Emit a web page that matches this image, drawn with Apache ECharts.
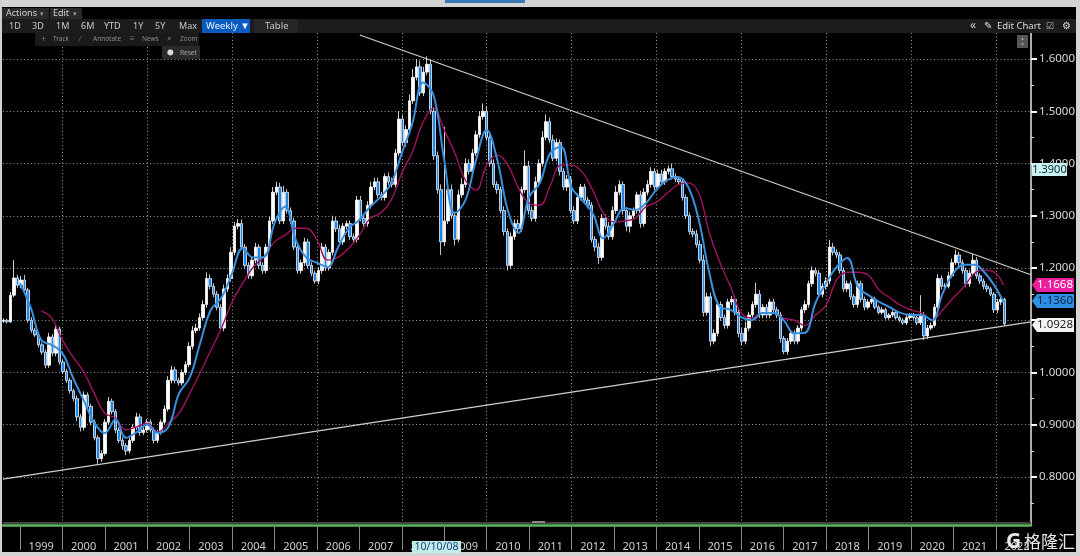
<!DOCTYPE html>
<html><head><meta charset="utf-8">
<style>html,body{margin:0;padding:0;background:#000}#c{width:1080px;height:556px}</style>
<script src="https://cdn.jsdelivr.net/npm/echarts@6/dist/echarts.min.js"></script>
</head><body><div id="c"></div>
<script>
const firstPeriod = 1998.61, periodStep = 0.0825;
const closes = [
1.100,1.097,1.148,1.181,1.167,1.177,1.158,1.100,1.081,1.072,1.053,1.039,
1.014,1.068,1.037,1.083,1.020,1.002,.985,.965,.950,.915,.895,.957,
.935,.905,.875,.835,.845,.905,.945,.925,.890,.870,.860,.850,
.870,.895,.915,.885,.890,.905,.890,.870,.885,.905,.930,.985,
1.005,.985,.980,1.000,1.015,1.050,1.080,1.085,1.105,1.130,1.180,1.165,
1.150,1.125,1.085,1.160,1.180,1.230,1.280,1.285,1.240,1.205,1.185,1.215,
1.240,1.205,1.195,1.240,1.290,1.345,1.355,1.290,1.345,1.310,1.290,1.240,
1.195,1.210,1.250,1.205,1.190,1.175,1.195,1.240,1.200,1.230,1.290,1.275,
1.250,1.280,1.285,1.260,1.255,1.330,1.295,1.285,1.320,1.355,1.365,1.340,
1.335,1.375,1.365,1.360,1.420,1.485,1.440,1.465,1.520,1.565,1.585,1.535,
1.575,1.590,1.500,1.415,1.350,1.250,1.290,1.350,1.300,1.255,1.340,1.360,
1.400,1.385,1.420,1.455,1.490,1.500,1.450,1.400,1.360,1.350,1.310,1.270,
1.205,1.260,1.285,1.275,1.350,1.395,1.310,1.295,1.365,1.400,1.450,1.480,
1.445,1.410,1.440,1.385,1.355,1.370,1.310,1.290,1.335,1.355,1.330,1.320,
1.255,1.240,1.220,1.295,1.280,1.260,1.310,1.345,1.360,1.310,1.280,1.300,
1.310,1.340,1.285,1.345,1.360,1.385,1.355,1.380,1.365,1.385,1.390,1.375,
1.370,1.365,1.335,1.300,1.270,1.265,1.245,1.215,1.115,1.145,1.060,1.075,
1.130,1.105,1.090,1.135,1.140,1.115,1.075,1.060,1.085,1.110,1.130,1.150,
1.110,1.125,1.110,1.135,1.120,1.110,1.065,1.040,1.060,1.075,1.060,1.085,
1.120,1.130,1.170,1.195,1.190,1.150,1.165,1.175,1.240,1.230,1.225,1.195,
1.160,1.170,1.145,1.130,1.170,1.140,1.125,1.135,1.140,1.125,1.115,1.120,
1.105,1.110,1.115,1.105,1.100,1.095,1.105,1.110,1.105,1.095,1.110,1.070,
1.085,1.090,1.125,1.180,1.165,1.165,1.185,1.210,1.225,1.210,1.195,1.170,
1.190,1.215,1.185,1.175,1.165,1.160,1.150,1.120,1.135,1.140,1.093];
// wick lengths above / below the body, in thousandths
const upperWicks = [
4,3,6,34,6,8,10,4,6,4,5,4, 5,8,6,8,5,5,5,5,4,6,6,7, 5,5,5,5,6,6,8,5,5,5,6,5, 6,6,8,6,5,6,5,5,5,5,7,8,
8,6,5,6,6,8,9,8,8,8,12,8, 6,6,6,8,8,10,8,9,8,6,6,8, 8,6,6,6,8,10,10,8,12,6,6,6, 6,6,8,6,6,5,6,8,6,6,10,8,
8,6,6,6,6,8,8,6,8,10,8,8, 6,6,8,8,8,15,8,8,12,16,15,12, 10,15,8,8,8,10,180,20,10,8,10,12,
10,8,8,8,10,15,10,8,8,6,6,8, 6,8,8,8,6,30,10,8,10,8,12,14, 8,10,8,6,6,8,6,8,8,6,6,6,
6,6,8,8,8,8,8,12,8,6,6,8, 6,6,8,8,8,8,6,8,8,6,6,10, 6,6,6,6,6,6,8,8,10,8,8,8,
8,6,6,6,6,6,6,10,12,6,6,22, 8,6,6,6,6,6,6,5,6,6,6,6, 6,8,6,8,6,6,6,8,14,8,6,6,
6,6,6,5,6,6,5,5,5,5,4,5, 4,4,4,4,4,4,6,4,4,6,38,6, 6,6,6,8,6,6,8,8,10,6,6,6, 6,12,6,5,5,5,4,4,6,6,3];
const lowerWicks = [
3,3,2,4,5,6,8,5,5,4,5,5, 6,5,6,6,5,5,5,5,5,8,8,6, 5,6,5,10,6,4,5,5,6,5,8,8, 5,5,5,6,5,5,5,6,5,4,4,5,
6,6,5,5,5,5,6,5,5,5,6,6, 6,6,5,6,6,6,6,6,6,6,6,6, 6,6,6,5,6,6,6,6,6,6,6,6, 6,6,6,6,6,5,6,6,6,5,6,6,
6,6,6,6,6,6,6,6,6,6,6,6, 6,6,6,6,6,6,6,8,6,6,6,6, 6,6,6,8,8,25,8,6,6,12,6,6,
6,6,6,6,6,6,6,6,6,8,6,8, 10,6,6,8,6,6,8,6,6,6,6,6, 6,6,6,8,6,8,6,6,6,6,6,6,
6,8,12,6,6,6,6,6,6,8,10,12, 6,6,8,6,6,6,6,6,6,6,6,6, 6,6,6,6,6,6,6,6,8,6,10,6,
6,6,6,6,6,6,8,8,6,6,6,6, 6,6,6,6,6,6,8,5,6,6,6,6, 6,6,6,6,6,6,6,6,6,6,6,6,
6,6,6,6,6,6,6,4,4,4,4,4, 4,4,4,4,4,4,4,4,4,4,4,8, 6,4,4,6,6,4,4,4,4,6,6,6, 6,6,6,6,6,6,4,6,6,6,3];

// moving averages, read every quarter from 1999.0; the last value sits at the last candle
const firstMaYear = 1999.0, maStep = 0.25, lastMaYear = 2022.18;
const blueAverage = [
1.171,1.125,1.062,1.053,1.037,.990,.947,.904,.884,.910,.875,.886,.900,.884,.896,.960,.990,1.057,1.120,1.143,
1.190,1.238,1.220,1.221,1.286,1.317,1.254,1.220,1.210,1.202,1.240,1.276,1.292,1.317,1.336,1.362,1.420,1.477,1.555,1.530,
1.407,1.305,1.330,1.407,1.464,1.407,1.310,1.267,1.336,1.362,1.420,1.432,1.355,1.330,1.305,1.257,1.286,1.315,1.311,1.324,
1.350,1.368,1.374,1.355,1.292,1.190,1.125,1.120,1.106,1.100,1.114,1.114,1.100,1.075,1.076,1.133,1.171,1.202,1.219,1.164,
1.148,1.135,1.125,1.114,1.110,1.110,1.100,1.152,1.190,1.206,1.206,1.190,1.162,1.135];
const crimsonStart = 1999.5;
const crimsonAverage = [
1.118,1.104,1.062,1.030,1.001,.960,.922,.913,.890,.896,.903,.886,.903,.922,.960,1.000,1.043,1.085,1.135,1.171,
1.202,1.221,1.250,1.263,1.276,1.276,1.254,1.215,1.221,1.238,1.263,1.295,1.305,1.330,1.382,1.422,1.479,1.506,1.464,1.420,
1.368,1.349,1.397,1.416,1.397,1.353,1.324,1.320,1.358,1.397,1.397,1.384,1.349,1.305,1.288,1.290,1.295,1.317,1.326,1.343,
1.359,1.363,1.343,1.267,1.210,1.164,1.114,1.104,1.114,1.114,1.104,1.100,1.090,1.110,1.129,1.177,1.192,1.192,1.186,1.158,
1.143,1.129,1.120,1.114,1.100,1.120,1.143,1.164,1.190,1.196,1.190,1.167];

const upperTrendYears = [2007.01, 2022.83], upperTrendValues = [1.646, 1.187];
const lowerTrendYears = [1998.6, 2022.83], lowerTrendValues = [0.796, 1.097];

const yearLabels = ['1999','2000','2001','2002','2003','2004','2005','2006','2007','2008','2009','2010','2011','2012','2013','2014','2015','2016','2017','2018','2019','2020','2021','2022'];
const priceTicks = [0.8,0.9,1.0,1.1,1.2,1.3,1.4,1.5,1.6];
const priceLabels = [0.8,0.9,1.0,1.2,1.3,1.4,1.5,1.6];
const minorPriceTicks = [0.75,0.85,0.95,1.05,1.15,1.25,1.35,1.45,1.55,1.65];

const years = yearLabels.map(Number);
const evenYears = years.filter(y => y % 2 === 0);
const candles = closes.map((c, i) => {
  const o = i ? closes[i-1] : 1.098;
  return [firstPeriod + i*periodStep, o, c,
    Math.min(o,c) - (lowerWicks[i]||4)/1000, Math.max(o,c) + (upperWicks[i]||4)/1000];
});
const blueData = blueAverage.map((v,i)=>[i === blueAverage.length-1 ? lastMaYear : firstMaYear + i*maStep, v]);
const crimsonData = crimsonAverage.map((v,i)=>[i === crimsonAverage.length-1 ? lastMaYear : crimsonStart + i*maStep, v]);

const X0 = 1998.6, X1 = 2022.83, Y0 = 0.7081, Y1 = 1.6498;
const FONT = '"Noto Sans", sans-serif';
const chart = echarts.init(document.getElementById('c'), null, {renderer:'canvas'});
const trend = (xs, vs) => ({type:'line', xAxisIndex:0, yAxisIndex:0, data:xs.map((x,i)=>[x,vs[i]]), showSymbol:false, silent:true,
  lineStyle:{color:'#d0d0c6', width:1.2}, z:6, clip:true});
chart.setOption({
  animation:false, backgroundColor:'#000',
  grid:{left:3, right:49, top:33, bottom:31, containLabel:false},
  xAxis:[
   {type:'value', min:X0, max:X1, position:'bottom',
    axisLine:{show:true, lineStyle:{color:'#5cb85c', width:2.5}},
    axisTick:{show:true, customValues:years, length:25, lineStyle:{color:'#8a8a8a', width:1}},
    axisLabel:{show:true, customValues:years.map(y=>y+0.5), formatter:v=>String(Math.floor(v)), color:'#cfcfcf', fontFamily:FONT, fontSize:11, margin:16},
    splitLine:{show:false}},
   {type:'value', min:X0, max:X1, position:'bottom',
    axisLine:{show:false}, axisLabel:{show:false},
    axisTick:{show:false, customValues:evenYears},
    splitLine:{show:true, lineStyle:{color:'#9a9a9a', type:[1,2.5], width:1}}}
  ],
  yAxis:[
   {type:'value', min:Y0, max:Y1, position:'right',
    axisLine:{show:true, lineStyle:{color:'#e8e8e8', width:1.5}},
    axisTick:{show:true, customValues:priceTicks, length:6, lineStyle:{color:'#fff', width:2}},
    axisLabel:{show:true, customValues:priceLabels, formatter:v=>v.toFixed(4), color:'#d8d8d8', fontFamily:FONT, fontSize:11.5, margin:8},
    splitLine:{show:true, lineStyle:{color:'#9a9a9a', type:[1,2.5], width:1}}},
   {type:'value', min:Y0, max:Y1, position:'right',
    axisLine:{show:false}, axisLabel:{show:false}, splitLine:{show:false},
    axisTick:{show:true, customValues:minorPriceTicks, length:3, lineStyle:{color:'#ddd', width:1}}}
  ],
  series:[
   {type:'candlestick', xAxisIndex:0, yAxisIndex:0, data:candles, barWidth:2.9, silent:true, clip:true, z:2,
    itemStyle:{color:'#ffffff', color0:'#1f86e6', borderColor:'#ffffff', borderColor0:'#e8f2ff', borderWidth:0.8}},
   {type:'line', xAxisIndex:0, yAxisIndex:0, data:crimsonData, showSymbol:false, smooth:0.4, silent:true, lineStyle:{color:'#a0125f', width:1.4}, z:3},
   {type:'line', xAxisIndex:0, yAxisIndex:0, data:blueData, showSymbol:false, smooth:0.4, silent:true, lineStyle:{color:'#3a8fdc', width:2}, z:4},
   trend(upperTrendYears, upperTrendValues),
   trend(lowerTrendYears, lowerTrendValues)
  ]
});

const priceTags = [
  {value:1.3900, text:'1.3900', bg:'#c9f3ee', fg:'#123', arrow:false},
  {value:1.1668, text:'1.1668', bg:'#ea1f9c', fg:'#fff', arrow:true},
  {value:1.1360, text:'1.1360', bg:'#2f8fe6', fg:'#06213f', arrow:true},
  {value:1.0928, text:'1.0928', bg:'#f4f4f4', fg:'#222', arrow:true, shift:1}
];
const g = [];
const rect = (x,y,w,h,fill) => g.push({type:'rect', shape:{x,y,width:w,height:h}, style:{fill}, z:100, silent:true});
const text = (x,y,t,fill,size,o={}) => g.push({type:'text', x, y, style:Object.assign({text:t, fill, font:(o.weight||'normal')+' '+size+'px '+(o.family||FONT), textAlign:o.align||'left', textVerticalAlign:'middle'}, {}), z:101, silent:true});
// window frame
rect(0,0,1080,7,'#d4d4d4'); rect(445,0,80,3,'#3b78b8');
rect(0,0,2,556,'#cfcfcf'); rect(1076,0,4,556,'#d4d4d4'); rect(0,552,1080,4,'#d4d4d4');
// toolbar rows
rect(2,7,1074,12,'#000'); rect(2,8,47,11,'#2a2a2a'); rect(50,8,32,11,'#2a2a2a');
text(6,13.5,'Actions','#d0d0d0',9); text(40,13.5,'\u25BE','#999',7);
text(53,13.5,'Edit','#d0d0d0',9); text(73,13.5,'\u25BE','#999',7);
rect(2,19,1074,14,'#1c1c1c');
[['1D',9],['3D',32],['1M',56],['6M',81],['YTD',104],['1Y',133],['5Y',155],['Max',179]].forEach(b=>text(b[1],26,b[0],'#c8c8c8',9));
rect(202,19,48,14,'#0a5bc0'); text(206,26,'Weekly \u25BC','#e8f2ff',9.5);
rect(254,19,44,14,'#262626'); text(265,26,'Table','#c8c8c8',9.5);
text(970,26,'\u00AB','#ccc',12); text(984,26,'\u270E','#ddd',10); text(997,26,'Edit Chart','#d8d8d8',9.5);
text(1046,26,'\u2611','#bbb',9); text(1062,26,'\u2699','#ddd',10);
// chart tools
rect(35,33,164,13,'#1a1a1a'); rect(162,46,38,13,'#2a2a2a');
text(41,39,'+','#777',9); text(53,39.5,'Track','#8a8a8a',6.5);
text(80,39,'\u2215','#777',8); text(93,39.5,'Annotate','#8a8a8a',6.5);
text(130,39,'\u2261','#777',8); text(142,39.5,'News','#8a8a8a',6.5);
text(167,39,'\u2315','#777',8); text(180,39.5,'Zoom','#8a8a8a',6.5);
text(167,52.5,'\u2B24','#ddd',6); text(180,53,'Reset','#a0a0a0',6.5);
rect(1017,35,11,13,'#555'); text(1022.5,38.5,'\u25B4','#999',6,{align:'center'}); text(1022.5,44,'\u25BE','#999',6,{align:'center'});
// scrollbar band above the date axis
rect(3,522,1028,2,'#444'); rect(532,521,13,2,'#888');
// date tag
rect(412,541,49,12,'#bfeeea'); text(436.5,547.5,'10/10/08','#20407a',10.5,{align:'center'});
// value tags
priceTags.forEach(t=>{
  const y = Math.round(chart.convertToPixel({yAxisIndex:0}, t.value)) + (t.shift||0);
  if (t.arrow) {
    g.push({type:'polygon', shape:{points:[[1032,y],[1037,y-7],[1074,y-7],[1074,y+7],[1037,y+7]]}, style:{fill:t.bg}, z:102, silent:true});
    g.push({type:'text', x:1055, y, style:{text:t.text, fill:t.fg, font:'11.5px '+FONT, textAlign:'center', textVerticalAlign:'middle'}, z:103, silent:true});
  } else {
    g.push({type:'rect', shape:{x:1032,y:y-6,width:35,height:13}, style:{fill:t.bg}, z:102, silent:true});
    g.push({type:'text', x:1049.5, y:y+0.5, style:{text:t.text, fill:t.fg, font:'11px '+FONT, textAlign:'center', textVerticalAlign:'middle'}, z:103, silent:true});
  }
});
// watermark
text(1006,542,'G','#e8e8e8',21,{weight:'bold'});
text(1024,542,'\u683C\u9686\u6C47','#e8e8e8',17,{family:'"Noto Sans CJK SC"'});
chart.setOption({graphic:{elements:g}});
</script></body></html>
